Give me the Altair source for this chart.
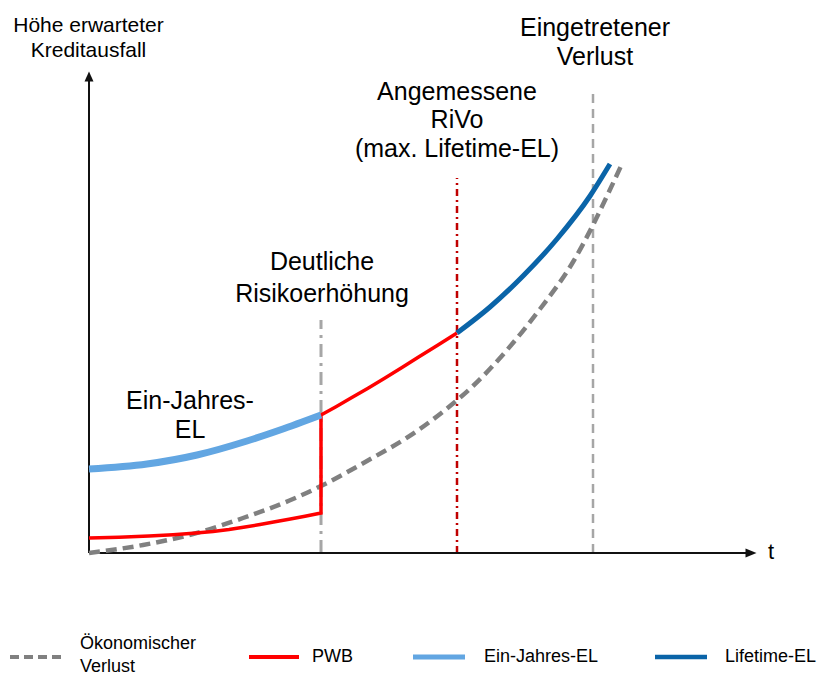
import altair as alt
import pandas as pd

# t = horizontal position (0 = origin of the axes), v = height above the t axis
econ_t = [0, 54, 104, 154, 204, 232, 278, 328, 361, 384, 418, 451, 484, 504, 518, 532]
econ_v = [0, 8, 19, 35, 54, 67, 92, 122, 147, 167, 203, 244, 291, 328, 357, 387]

pwb_t = [0, 30, 60, 84, 104, 124, 140, 156, 171, 186, 200, 216, 232, 232, 247, 262, 279, 296, 313, 330, 349, 368]
pwb_v = [15, 15.8, 17, 18.3, 19.8, 21.6, 23.6, 26, 28.5, 31.2, 33.8, 36.8, 40, 138, 146.3, 155, 164.8, 175, 185.4, 196.2, 208, 220]

ein_t = [0, 58, 108, 158, 191, 232]
ein_v = [84, 89, 98, 112, 123, 138]

life_t = [368, 401, 434, 468, 501, 521]
life_v = [220, 246, 277, 314, 357, 389]

# event markers (vertical lines)
risk_t, risk_top = 232, 233
rivo_t, rivo_top = 368, 375
loss_t, loss_top = 504, 463

# annotation texts
ann_text = ["Höhe erwarteter", "Kreditausfall", "Eingetretener", "Verlust",
            "Angemessene", "RiVo", "(max. Lifetime-EL)", "Deutliche",
            "Risikoerhöhung", "Ein-Jahres-", "EL", "t"]
ann_t = [-0.5, -0.5, 506, 506, 368, 368, 368, 233, 233, 101, 101, 682]
ann_v = [521, 496, 517, 488, 453, 425, 396, 283, 251, 144, 115, -6]
ann_fs = [21, 21, 25, 25, 25, 25, 25, 25, 25, 25, 25, 22]

# legend
leg_names = ["Ökonomischer Verlust", "PWB", "Ein-Jahres-EL", "Lifetime-EL"]
leg_t0 = [-79, 160, 324, 566]
leg_t1 = [-27, 210, 376, 618]
leg_v = -104
leg_text = ["Ökonomischer", "Verlust", "PWB", "Ein-Jahres-EL", "Lifetime-EL"]
leg_text_t = [-9, -9, 223, 395, 636]
leg_text_v = [-91, -114, -104, -104, -104]

FONT = "Liberation Sans"
GRAY = "#808080"
LGRAY = "#a6a6a6"
RED = "#ff0000"
DRED = "#c00000"
LBLUE = "#62a6e2"
DBLUE = "#0a64a8"

W, H = 809, 668
xs = alt.Scale(domain=[-81, -81 + W], nice=False, zero=False)
ys = alt.Scale(domain=[545 - H, 545], nice=False, zero=False)


def X(f="t"):
    return alt.X(f"{f}:Q", scale=xs, axis=None)


def Y(f="v"):
    return alt.Y(f"{f}:Q", scale=ys, axis=None)


econ = pd.DataFrame({"t": econ_t, "v": econ_v})
pwb = pd.DataFrame({"t": pwb_t, "v": pwb_v, "i": list(range(len(pwb_t)))})
ein = pd.DataFrame({"t": ein_t, "v": ein_v})
life = pd.DataFrame({"t": life_t, "v": life_v})

layers = []


def vline(t, top, color, dash, width):
    d = pd.DataFrame({"t": [t], "v": [0], "v2": [top]})
    return alt.Chart(d).mark_rule(color=color, strokeDash=dash, strokeWidth=width).encode(
        x=X(), y=Y(), y2="v2:Q")


layers.append(vline(risk_t, risk_top, LGRAY, [13, 6, 3, 6], 3))
layers.append(vline(rivo_t, rivo_top, DRED, [7, 4, 2, 4], 2.5))
layers.append(vline(loss_t, loss_top, LGRAY, [9, 6], 2.5))

# axes
axes_df = pd.DataFrame({"t": [0, 0], "v": [0, 0], "t2": [0, 657], "v2": [473, 0]})
layers.append(alt.Chart(axes_df).mark_rule(color="#111111", strokeWidth=2).encode(
    x=X(), y=Y(), x2="t2:Q", y2="v2:Q"))
arr_up = pd.DataFrame({"t": [0], "v": [476.5]})
layers.append(alt.Chart(arr_up).mark_point(
    shape="M0,-1L0.9,1L-0.9,1Z", size=100, filled=True, color="#111111", opacity=1,
    strokeWidth=0).encode(x=X(), y=Y()))
arr_right = pd.DataFrame({"t": [662], "v": [0]})
layers.append(alt.Chart(arr_right).mark_point(
    shape="M1,0L-1,-0.8L-1,0.8Z", size=121, filled=True, color="#111111", opacity=1,
    strokeWidth=0).encode(x=X(), y=Y()))

# curves
layers.append(alt.Chart(econ).mark_line(color=GRAY, strokeWidth=4.5, strokeDash=[11, 6],
                                        interpolate="monotone").encode(x=X(), y=Y()))
layers.append(alt.Chart(pwb).mark_line(color=RED, strokeWidth=3.5, interpolate="linear",
                                       strokeJoin="miter").encode(
    x=X(), y=Y(), order="i:Q"))
layers.append(alt.Chart(ein).mark_line(color=LBLUE, strokeWidth=7,
                                       interpolate="monotone").encode(x=X(), y=Y()))
layers.append(alt.Chart(life).mark_line(color=DBLUE, strokeWidth=5,
                                        interpolate="monotone").encode(x=X(), y=Y()))

# annotation text
ann = pd.DataFrame({"label": ann_text, "t": ann_t, "v": ann_v, "fs": ann_fs})
layers.append(alt.Chart(ann).mark_text(font=FONT, align="center", baseline="alphabetic",
                                       color="#000000").encode(
    x=X(), y=Y(), text="label:N", size=alt.Size("fs:Q", scale=None)))

# legend
leg_styles = [
    (GRAY, [9, 5], 4),
    (RED, None, 4),
    (LBLUE, None, 5),
    (DBLUE, None, 4.5),
]
for i, (c, dash, w) in enumerate(leg_styles):
    d = pd.DataFrame({"t": [leg_t0[i]], "t2": [leg_t1[i]], "v": [leg_v], "name": [leg_names[i]]})
    kw = dict(color=c, strokeWidth=w)
    if dash:
        kw["strokeDash"] = dash
    layers.append(alt.Chart(d).mark_rule(**kw).encode(x=X(), x2="t2:Q", y=Y()))

leg = pd.DataFrame({"label": leg_text, "t": leg_text_t, "v": leg_text_v})
layers.append(alt.Chart(leg).mark_text(font=FONT, align="left", baseline="middle",
                                       fontSize=18, color="#000000").encode(
    x=X(), y=Y(), text="label:N"))

chart = alt.layer(*layers).properties(
    width=W, height=H, padding=0, autosize="none", background="white"
).configure_view(stroke=None)

chart.save("out.html", embed_options={"renderer": "svg", "actions": False})
